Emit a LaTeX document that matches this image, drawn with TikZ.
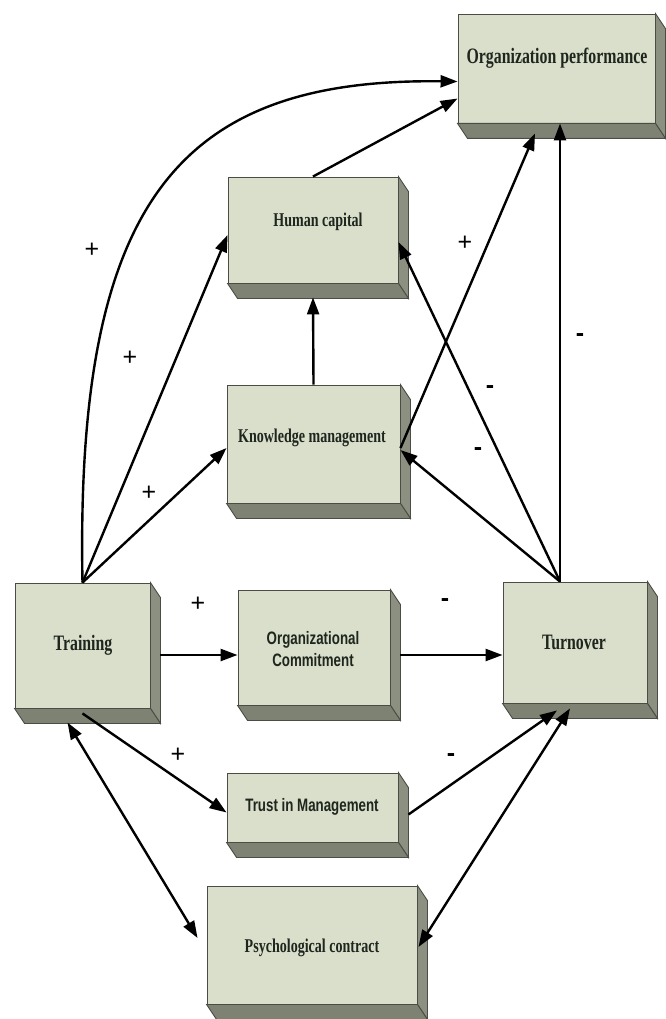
\documentclass[tikz,border=0pt]{standalone}
\usepackage{fontspec}
\usetikzlibrary{arrows.meta,calc}
\newfontfamily\condserif[FakeStretch=0.72]{Liberation Serif}
\newfontfamily\condsans[FakeStretch=0.74]{Liberation Sans}
\newfontfamily\signfont{Liberation Sans}
\definecolor{facecol}{HTML}{DADFCB}
\definecolor{sidecol}{HTML}{8C9081}
\definecolor{bottomcol}{HTML}{7E8273}
\definecolor{edgecol}{HTML}{4A4D45}
\definecolor{txtcol}{HTML}{1E261E}
\tikzset{
  blk/.style={draw=edgecol, line width=0.9pt, fill=facecol, inner sep=0pt},
  lblbig/.style={font=\condserif\bfseries\fontsize{22}{24}\selectfont, text=txtcol, inner sep=0pt},
  lblmid/.style={font=\condserif\bfseries\fontsize{19.5}{22}\selectfont, text=txtcol, inner sep=0pt},
  lblsans/.style={font=\condsans\bfseries\fontsize{18}{22}\selectfont, text=txtcol, inner sep=0pt, align=center},
  sign/.style={font=\signfont\fontsize{25}{25}\selectfont, inner sep=0pt},
  minus/.style={font=\signfont\bfseries\fontsize{25}{25}\selectfont, inner sep=0pt},
  arr/.style={line width=2.4pt, -{Triangle[length=17pt,width=12pt]}},
  darr/.style={line width=2.4pt, {Triangle[length=17pt,width=12pt]}-{Triangle[length=17pt,width=12pt]}},
}
\newcommand\extrude[1]{%
  \filldraw[fill=sidecol, draw=edgecol, line width=0.9pt] (#1.north east) -- ++(10,15) -- ($(#1.south east)+(10,15)$) -- (#1.south east) -- cycle;
  \filldraw[fill=bottomcol, draw=edgecol, line width=0.9pt] (#1.south west) -- ++(10,15) -- ($(#1.south east)+(10,15)$) -- (#1.south east) -- cycle;
}
\begin{document}
\begin{tikzpicture}[x=1pt,y=-1pt]
\useasboundingbox (0,0) rectangle (665,1019);
\fill[white] (0,0) rectangle (665,1019);
% boxes
\node[blk, minimum width=197pt, minimum height=109pt] (op) at (556.5,68.5) {};
\node[blk, minimum width=170pt, minimum height=106pt] (hc) at (313,230) {};
\node[blk, minimum width=173pt, minimum height=118pt] (km) at (313.5,444) {};
\node[blk, minimum width=135pt, minimum height=125pt] (tr) at (82.5,645.5) {};
\node[blk, minimum width=152pt, minimum height=115pt] (oc) at (314,647.5) {};
\node[blk, minimum width=144pt, minimum height=121pt] (to) at (575,642.5) {};
\node[blk, minimum width=171pt, minimum height=69pt] (tm) at (312.5,807.5) {};
\node[blk, minimum width=210pt, minimum height=118pt] (pc) at (312,945) {};
\extrude{op}\extrude{hc}\extrude{km}\extrude{tr}\extrude{oc}\extrude{to}\extrude{tm}\extrude{pc}
% texts
\node[lblbig] (opt) at (557,58) {Organization performance};
\node[lblmid] (hct) at (318,222) {Human capital};
\node[lblmid] (kmt) at (312,438) {Knowledge management};
\node[lblbig] (trt) at (83,645) {Training};
\node[lblsans] (oct) at (313,649) {Organizational\\Commitment};
\node[lblbig] (tot) at (574,642) {Turnover};
\node[lblsans] (tmt) at (312,807) {Trust in Management};
\node[lblmid] (pct) at (312,948) {Psychological contract};
% connectors
\draw[arr] (tr.north) .. controls (75,200) and (180,78) .. ([yshift=-13pt]op.west);
\draw[arr] (tr.north) -- ([yshift=-5pt]hc.west);
\draw[arr] (tr.north) -- ([yshift=-4pt]km.west);
\draw[arr] (hc.north) -- ([yshift=-30pt]op.west);
\draw[arr] (km.north) -- ([yshift=-14pt]hc.south);
\draw[arr] ([yshift=-4pt]km.east) -- ([xshift=-21.5pt,yshift=-10pt]op.south);
\draw[arr] ([xshift=-15pt]to.north) -- ([xshift=3.5pt]op.south);
\draw[arr] ([xshift=-15pt]to.north) -- ([yshift=-12pt]hc.east);
\draw[arr] ([xshift=-15pt]to.north) -- ([yshift=-6pt]km.east);
\draw[arr] ([xshift=10pt,yshift=-9.5pt]tr.east) -- ([yshift=-7.5pt]oc.west);
\draw[arr] ([xshift=10pt,yshift=-7.5pt]oc.east) -- ([yshift=-12.5pt]to.west);
\draw[arr] ([yshift=-5pt]tr.south) -- ([yshift=-5pt]tm.west);
\draw[darr] ([xshift=-15pt,yshift=-14pt]tr.south) -- ([xshift=-9pt,yshift=7pt]pc.west);
\draw[arr] ([xshift=10pt,yshift=-7pt]tm.east) -- ([xshift=-18pt,yshift=-7pt]to.south);
\draw[darr] ([xshift=-5pt,yshift=-5pt]to.south) -- ([xshift=1pt,yshift=-2pt]pc.east);
% signs
\node[sign] (s1) at (92,250) {+};
\node[sign] (s2) at (130,358) {+};
\node[sign] (s3) at (149,493) {+};
\node[sign] (s4) at (198,604) {+};
\node[minus] (s5) at (445,603) {-};
\node[sign] (s6) at (178,755) {+};
\node[minus] (s7) at (451,758) {-};
\node[sign] (s8) at (465,243) {+};
\node[minus] (s9) at (490,390) {-};
\node[minus] (s10) at (580,338) {-};
\node[minus] (s11) at (478,452) {-};
\end{tikzpicture}
\end{document}
